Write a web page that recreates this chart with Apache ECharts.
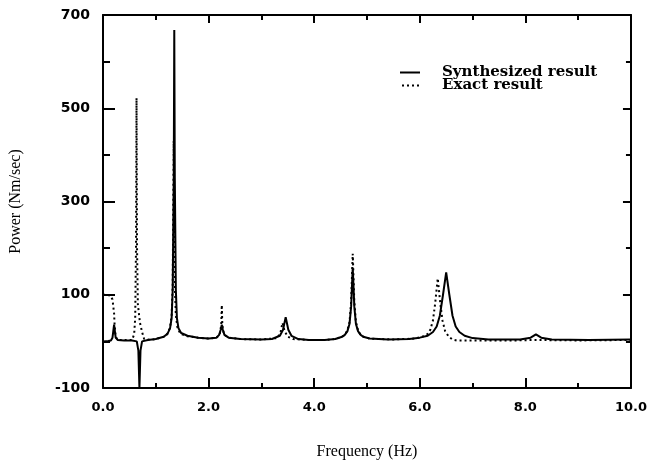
<!DOCTYPE html>
<html>
<head>
<meta charset="utf-8">
<script src="https://cdn.jsdelivr.net/npm/echarts@6/dist/echarts.min.js"></script>
<style>
html,body{margin:0;padding:0;background:#fff;}
#chart{width:650px;height:469px;}
</style>
</head>
<body>
<div id="chart"></div>
<script>
// Synthesized result (solid line)
const synthFreq = [0.00,0.10,0.15,0.18,0.21,0.24,0.28,0.40,0.55,0.64,0.67,0.69,0.71,0.74,0.85,1.00,1.15,1.22,1.27,1.30,1.32,1.34,1.35,1.36,1.38,1.40,1.43,1.48,1.60,1.80,2.00,2.15,2.20,2.23,2.25,2.27,2.30,2.38,2.60,3.00,3.20,3.35,3.41,3.46,3.51,3.57,3.70,3.90,4.20,4.40,4.53,4.58,4.63,4.67,4.70,4.73,4.76,4.79,4.83,4.88,4.93,5.05,5.40,5.80,6.00,6.15,6.25,6.32,6.38,6.44,6.50,6.56,6.62,6.68,6.75,6.85,7.00,7.30,7.90,8.10,8.20,8.30,8.50,9.20,10.00];
const synthPower = [0,1,2,8,36,8,3,2,2,0,-20,-100,-20,0,3,5,10,16,28,50,110,350,668,350,110,50,28,18,12,8,6,8,14,25,36,25,14,8,5,4,5,12,25,52,25,12,5,3,3,5,10,14,22,38,75,158,75,38,22,14,10,6,4,5,8,12,20,32,55,100,148,100,55,32,20,12,7,4,4,8,15,8,4,3,4];

// Exact result (dotted line)
const exactFreq = [0.00,0.08,0.14,0.18,0.21,0.22,0.24,0.28,0.40,0.55,0.59,0.61,0.625,0.635,0.645,0.66,0.70,0.74,0.78,0.90,1.00,1.15,1.22,1.27,1.30,1.32,1.34,1.36,1.38,1.41,1.45,1.50,1.60,1.80,2.00,2.15,2.21,2.24,2.25,2.26,2.29,2.38,2.60,3.00,3.30,3.36,3.40,3.44,3.50,3.60,3.90,4.20,4.40,4.53,4.58,4.63,4.67,4.70,4.73,4.76,4.79,4.83,4.88,4.93,5.05,5.50,5.90,6.05,6.14,6.20,6.25,6.29,6.34,6.39,6.43,6.48,6.55,6.62,6.70,7.20,7.80,8.20,9.00,10.00];
const exactPower = [100,100,98,90,60,35,10,3,3,3,15,50,200,522,200,80,40,20,5,3,5,10,16,30,55,120,430,120,55,30,20,15,11,8,6,8,15,35,78,35,15,8,5,4,7,18,40,22,10,5,3,3,5,10,14,24,42,85,188,85,42,24,14,10,6,4,6,10,15,25,45,80,135,80,45,22,10,4,2,2,2,3,2,3];

const seriesNames = ['Synthesized result', 'Exact result'];
const xTickLabels = ['0.0','2.0','4.0','6.0','8.0','10.0'];
const yTickLabels = ['-100','100','300','500','700'];

const zip = (a, b) => a.map((v, i) => [v, b[i]]);

const chart = echarts.init(document.getElementById('chart'), null, {renderer: 'canvas'});

const tickFont = {fontFamily: 'DejaVu Sans', fontWeight: 'bold', color: '#000'};
const axisCommonLine = {show: true, onZero: false, lineStyle: {color: '#000', width: 2}};
const legendText = {fontFamily: 'DejaVu Serif', fontWeight: 'bold', fontSize: 15, color: '#000', padding: [0,0,0,17]};

chart.setOption({
  animation: false,
  backgroundColor: '#fff',
  grid: {left: 103, right: 19, top: 15, bottom: 81, containLabel: false},
  legend: [
    {
      data: [{name: seriesNames[0], icon: 'path://M0,0h20v2h-20z'}],
      left: 400, top: 65, orient: 'vertical',
      itemWidth: 20, itemHeight: 2, padding: 0, selectedMode: false,
      itemStyle: {color: '#000', borderWidth: 0},
      textStyle: legendText
    },
    {
      data: [{name: seriesNames[1], icon: 'path://M0,0h2v2h-2zM5,0h2v2h-2zM10,0h2v2h-2zM15,0h2v2h-2z'}],
      left: 402, top: 78, orient: 'vertical',
      itemWidth: 17, itemHeight: 2, padding: 0, selectedMode: false,
      itemStyle: {color: '#000', borderWidth: 0},
      textStyle: Object.assign({}, legendText, {padding: [0,0,0,18]})
    }
  ],
  xAxis: [
    {
      type: 'value', min: 0, max: 10, interval: 2, position: 'bottom',
      name: 'Frequency (Hz)', nameLocation: 'middle', nameGap: 56,
      nameTextStyle: {fontFamily: 'Liberation Serif', fontSize: 16, color: '#000'},
      axisLine: axisCommonLine,
      axisTick: {show: true, inside: true, length: 10, lineStyle: {color: '#000', width: 2}},
      minorTick: {show: true, splitNumber: 2, length: 5, lineStyle: {color: '#000', width: 2}},
      axisLabel: Object.assign({margin: 13, fontSize: 13, formatter: (v) => xTickLabels[Math.round(v / 2)]}, tickFont),
      splitLine: {show: false}
    },
    {
      type: 'value', min: 0, max: 10, interval: 2, position: 'top',
      axisLine: axisCommonLine,
      axisTick: {show: true, inside: true, length: 8, lineStyle: {color: '#000', width: 2}},
      minorTick: {show: true, splitNumber: 2, length: 5, lineStyle: {color: '#000', width: 2}},
      axisLabel: {show: false},
      splitLine: {show: false}
    }
  ],
  yAxis: [
    {
      type: 'value', min: -100, max: 700, interval: 200, position: 'left',
      name: 'Power (Nm/sec)', nameLocation: 'middle', nameGap: 79,
      nameTextStyle: {fontFamily: 'Liberation Serif', fontSize: 16, color: '#000'},
      axisLine: axisCommonLine,
      axisTick: {show: true, inside: true, length: 12, lineStyle: {color: '#000', width: 2}},
      minorTick: {show: true, splitNumber: 2, length: 7, lineStyle: {color: '#000', width: 2}},
      axisLabel: Object.assign({margin: 13, fontSize: 14, formatter: (v) => yTickLabels[Math.round((v + 100) / 200)]}, tickFont),
      splitLine: {show: false}
    },
    {
      type: 'value', min: -100, max: 700, interval: 200, position: 'right',
      axisLine: axisCommonLine,
      axisTick: {show: true, inside: true, length: 8, lineStyle: {color: '#000', width: 2}},
      minorTick: {show: true, splitNumber: 2, length: 5, lineStyle: {color: '#000', width: 2}},
      axisLabel: {show: false},
      splitLine: {show: false}
    }
  ],
  series: [
    {
      name: seriesNames[0], type: 'line', xAxisIndex: 0, yAxisIndex: 0,
      data: zip(synthFreq, synthPower), symbol: 'none', smooth: false,
      lineStyle: {color: '#000', width: 2, type: 'solid'},
      itemStyle: {color: '#000'}, z: 3
    },
    {
      name: seriesNames[1], type: 'line', xAxisIndex: 0, yAxisIndex: 0,
      data: zip(exactFreq, exactPower), symbol: 'none', smooth: false,
      lineStyle: {color: '#000', width: 2, type: [2, 3]},
      itemStyle: {color: '#000'}, z: 2
    }
  ]
});
</script>
</body>
</html>
